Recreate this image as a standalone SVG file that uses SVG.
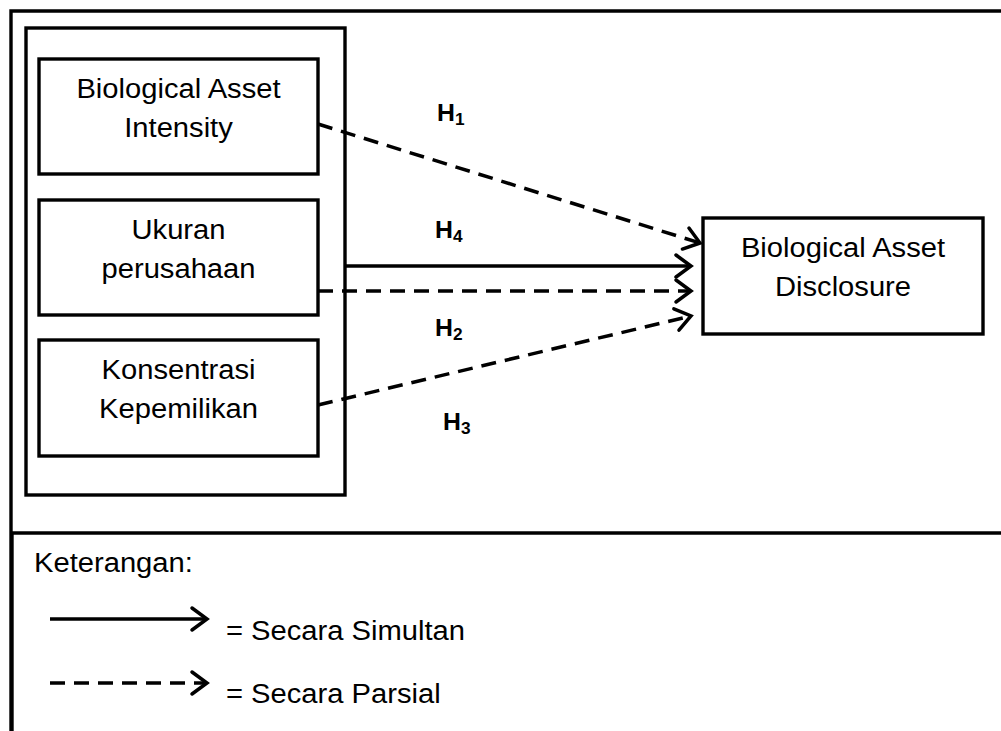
<svg xmlns="http://www.w3.org/2000/svg" width="1001" height="731" viewBox="0 0 1001 731">
<defs>
<marker id="chev" markerUnits="userSpaceOnUse" markerWidth="24" markerHeight="28" refX="17" refY="12" orient="auto" overflow="visible">
<path d="M2,1 L17,12 L2,23" fill="none" stroke="#000" stroke-width="3.5" stroke-linecap="round" stroke-linejoin="miter"/>
</marker>
</defs>
<style>
.box{fill:#fff;stroke:#000;stroke-width:3.4}
.frame{fill:none;stroke:#000;stroke-width:3.4}
.t{font-family:"Liberation Sans",Arial,sans-serif;font-size:27px;fill:#000;text-anchor:middle}
.l{font-family:"Liberation Sans",Arial,sans-serif;font-size:27px;fill:#000}
.h{font-family:"Liberation Sans",Arial,sans-serif;font-size:23px;font-weight:bold;fill:#000}
.sub{font-size:16px}
.solid{fill:none;stroke:#000;stroke-width:3.5;marker-end:url(#chev)}
.dash{fill:none;stroke:#000;stroke-width:3.5;stroke-dasharray:15 9;marker-end:url(#chev)}
</style>
<rect width="1001" height="731" fill="#fff"/>
<g id="frame">
<path class="frame" d="M11,731 V11 H1001"/>
<path class="frame" d="M11,533 H1001"/>
<path class="frame" d="M12,533 V731" stroke-width="4"/>
</g>
<g id="group-box">
<rect class="box" x="26" y="28" width="319" height="467"/>
</g>
<g id="connectors">
<path class="dash" d="M318,124 L700,243"/>
<path class="solid" d="M345,266 L691,266"/>
<path class="dash" d="M318,291 L691,291"/>
<path class="dash" d="M318,405 L691,316"/>
</g>
<g id="node-bai">
<rect class="box" x="39" y="59" width="279" height="115"/>
<text class="t" transform="translate(178.5,98) scale(1.08,1)">Biological Asset</text>
<text class="t" transform="translate(178.5,137) scale(1.08,1)">Intensity</text>
</g>
<g id="node-ukuran">
<rect class="box" x="39" y="200" width="279" height="115"/>
<text class="t" transform="translate(178.5,239) scale(1.08,1)">Ukuran</text>
<text class="t" transform="translate(178.5,278) scale(1.08,1)">perusahaan</text>
</g>
<g id="node-konsentrasi">
<rect class="box" x="39" y="340" width="279" height="116"/>
<text class="t" transform="translate(178.5,379) scale(1.08,1)">Konsentrasi</text>
<text class="t" transform="translate(178.5,418) scale(1.08,1)">Kepemilikan</text>
</g>
<g id="node-bad">
<rect class="box" x="703" y="218" width="280" height="116"/>
<text class="t" transform="translate(843,257) scale(1.08,1)">Biological Asset</text>
<text class="t" transform="translate(843,296) scale(1.08,1)">Disclosure</text>
</g>
<g id="labels">
<text class="h" transform="translate(437,121) scale(1.08,1)">H<tspan class="sub" dy="4">1</tspan></text>
<text class="h" transform="translate(435,238) scale(1.08,1)">H<tspan class="sub" dy="4">4</tspan></text>
<text class="h" transform="translate(435,336) scale(1.08,1)">H<tspan class="sub" dy="4">2</tspan></text>
<text class="h" transform="translate(443,430) scale(1.08,1)">H<tspan class="sub" dy="4">3</tspan></text>
</g>
<g id="legend">
<text class="l" transform="translate(34,572) scale(1.08,1)">Keterangan:</text>
<path class="solid" d="M50,619 L207,619"/>
<path class="dash" d="M50,683 L207,683"/>
<text class="l" transform="translate(226,640) scale(1.08,1)">= Secara Simultan</text>
<text class="l" transform="translate(226,703) scale(1.08,1)">= Secara Parsial</text>
</g>
</svg>
